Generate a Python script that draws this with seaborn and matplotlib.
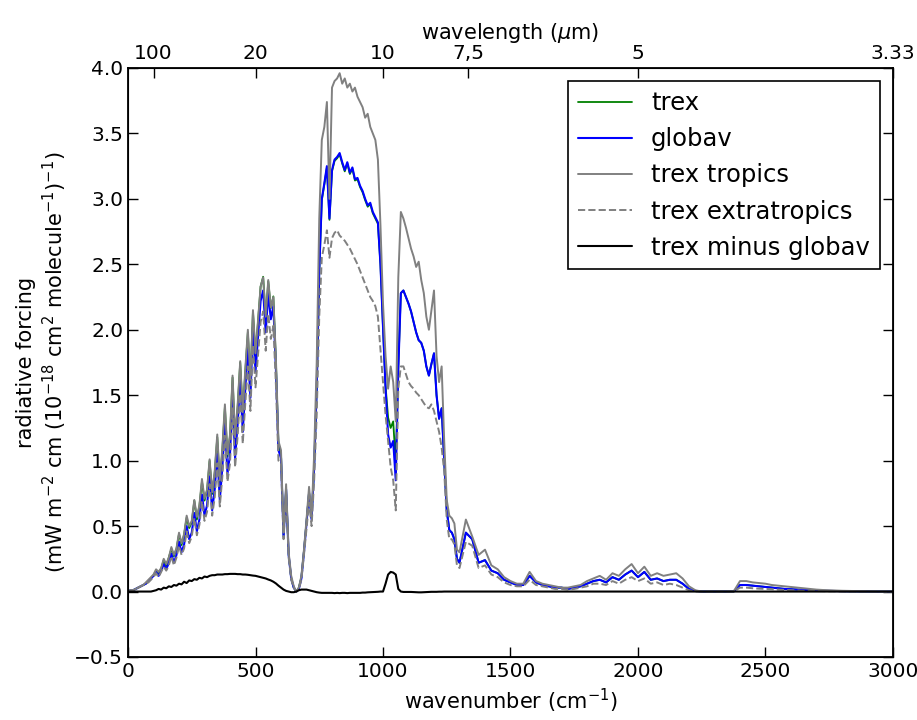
import numpy as np
import pandas as pd
import seaborn as sns
import matplotlib.pyplot as plt

# wavenumber grid (cm-1): fine below 1300, coarser above
wn_fine = np.arange(0, 1300, 10)
wn_coarse = np.arange(1300, 3001, 25)
wavenumber = np.concatenate([wn_fine, wn_coarse])

# values
globav = [
    0.00, 0.01, 0.01, 0.02, 0.03, 0.04, 0.05, 0.06, 0.08, 0.10,
    0.12, 0.15, 0.12, 0.16, 0.21, 0.17, 0.22, 0.29, 0.22, 0.28,
    0.38, 0.30, 0.36, 0.50, 0.40, 0.45, 0.60, 0.46, 0.55, 0.74,
    0.58, 0.66, 0.88, 0.62, 0.78, 1.05, 0.70, 0.95, 1.28, 0.90,
    1.05, 1.50, 1.02, 1.28, 1.62, 1.22, 1.55, 1.85, 1.48, 2.02,
    1.68, 1.95, 2.22, 2.30, 1.98, 2.28, 2.08, 2.18, 1.70, 1.08,
    1.02, 0.42, 0.78, 0.28, 0.10, 0.03, 0.00, 0.02, 0.10, 0.30,
    0.52, 0.75, 0.55, 0.95, 1.55, 2.45, 3.00, 3.12, 3.25, 2.85,
    3.22, 3.30, 3.32, 3.35, 3.28, 3.22, 3.28, 3.20, 3.24, 3.15,
    3.16, 3.10, 3.06, 3.00, 2.95, 2.97, 2.90, 2.86, 2.82, 2.50,
    2.02, 1.55, 1.20, 1.10, 1.15, 0.85, 1.70, 2.28, 2.30, 2.25,
    2.20, 2.14, 2.06, 1.98, 1.92, 1.90, 1.84, 1.72, 1.65, 1.74,
    1.82, 1.50, 1.32, 1.40, 1.00, 0.62, 0.47, 0.45, 0.40, 0.25,
    0.22, 0.45, 0.40, 0.22,
    0.24, 0.16, 0.14, 0.09,
    0.07, 0.05, 0.05, 0.12,
    0.07, 0.05, 0.04, 0.03,
    0.03, 0.02, 0.03, 0.04,
    0.06, 0.08, 0.09, 0.07,
    0.11, 0.09, 0.13, 0.16,
    0.11, 0.15, 0.09, 0.10,
    0.08, 0.09, 0.09, 0.06,
    0.02, 0.005, 0.0, 0.0,
    0.0, 0.0, 0.0, 0.0,
    0.05, 0.05, 0.045, 0.04,
    0.035, 0.03, 0.025, 0.02,
    0.018, 0.015, 0.012, 0.01,
    0.008, 0.006, 0.005, 0.004,
    0.003, 0.002, 0.002, 0.001,
    0.001, 0.0, 0.0, 0.0,
    0.0,
]

trex = [
    0.00, 0.01, 0.01, 0.02, 0.03, 0.04, 0.05, 0.06, 0.08, 0.10,
    0.125, 0.16, 0.14, 0.175, 0.24, 0.195, 0.26, 0.325, 0.27, 0.325,
    0.44, 0.355, 0.435, 0.565, 0.485, 0.53, 0.695, 0.55, 0.655, 0.84,
    0.695, 0.77, 1.00, 0.745, 0.905, 1.18, 0.83, 1.08, 1.41, 1.03,
    1.185, 1.635, 1.155, 1.41, 1.75, 1.35, 1.68, 1.98, 1.60, 2.14,
    1.80, 2.065, 2.33, 2.405, 2.08, 2.37, 2.165, 2.255, 1.76, 1.125,
    1.05, 0.43, 0.78, 0.28, 0.10, 0.03, 0.00, 0.03, 0.11, 0.31,
    0.54, 0.76, 0.56, 0.95, 1.54, 2.44, 2.99, 3.11, 3.24, 2.84,
    3.21, 3.29, 3.31, 3.34, 3.27, 3.21, 3.27, 3.19, 3.23, 3.14,
    3.15, 3.09, 3.05, 2.99, 2.94, 2.96, 2.89, 2.85, 2.81, 2.50,
    2.02, 1.57, 1.33, 1.25, 1.30, 0.98, 1.72, 2.28, 2.30, 2.25,
    2.20, 2.14, 2.06, 1.98, 1.92, 1.90, 1.84, 1.72, 1.65, 1.74,
    1.82, 1.50, 1.32, 1.40, 1.00, 0.62, 0.47, 0.45, 0.40, 0.25,
    0.22, 0.45, 0.40, 0.22,
    0.24, 0.16, 0.14, 0.09,
    0.07, 0.05, 0.05, 0.12,
    0.07, 0.05, 0.04, 0.03,
    0.03, 0.02, 0.03, 0.04,
    0.06, 0.08, 0.09, 0.07,
    0.11, 0.09, 0.13, 0.16,
    0.11, 0.15, 0.09, 0.10,
    0.08, 0.09, 0.09, 0.06,
    0.02, 0.005, 0.0, 0.0,
    0.0, 0.0, 0.0, 0.0,
    0.05, 0.05, 0.045, 0.04,
    0.035, 0.03, 0.025, 0.02,
    0.018, 0.015, 0.012, 0.01,
    0.008, 0.006, 0.005, 0.004,
    0.003, 0.002, 0.002, 0.001,
    0.001, 0.0, 0.0, 0.0,
    0.0,
]

trex_tropics = [
    0.00, 0.01, 0.01, 0.02, 0.03, 0.04, 0.05, 0.07, 0.09, 0.11,
    0.13, 0.17, 0.15, 0.18, 0.25, 0.21, 0.26, 0.34, 0.28, 0.33,
    0.45, 0.37, 0.44, 0.58, 0.50, 0.54, 0.70, 0.57, 0.66, 0.86,
    0.71, 0.78, 1.01, 0.76, 0.92, 1.20, 0.85, 1.10, 1.43, 1.05,
    1.20, 1.65, 1.18, 1.43, 1.76, 1.37, 1.70, 2.00, 1.62, 2.15,
    1.82, 2.08, 2.33, 2.40, 2.10, 2.38, 2.17, 2.25, 1.78, 1.15,
    1.08, 0.45, 0.82, 0.30, 0.12, 0.04, 0.00, 0.03, 0.12, 0.32,
    0.55, 0.80, 0.58, 1.05, 1.75, 2.85, 3.45, 3.55, 3.74, 3.00,
    3.85, 3.90, 3.92, 3.96, 3.88, 3.92, 3.85, 3.88, 3.82, 3.85,
    3.78, 3.74, 3.70, 3.62, 3.65, 3.55, 3.50, 3.45, 3.30, 2.80,
    2.20, 1.80, 1.55, 1.72, 1.60, 1.30, 2.40, 2.90, 2.85, 2.78,
    2.70, 2.62, 2.56, 2.48, 2.52, 2.38, 2.28, 2.10, 2.00, 2.15,
    2.30, 1.80, 1.60, 1.72, 1.15, 0.70, 0.58, 0.56, 0.52, 0.32,
    0.30, 0.55, 0.42, 0.28,
    0.32, 0.20, 0.17, 0.11,
    0.08, 0.06, 0.06, 0.15,
    0.08, 0.06, 0.05, 0.04,
    0.03, 0.03, 0.04, 0.05,
    0.08, 0.10, 0.12, 0.09,
    0.14, 0.12, 0.17, 0.21,
    0.14, 0.19, 0.12, 0.14,
    0.12, 0.13, 0.14, 0.10,
    0.04, 0.01, 0.0, 0.0,
    0.0, 0.0, 0.0, 0.0,
    0.08, 0.08, 0.07, 0.065,
    0.06, 0.05, 0.045, 0.04,
    0.035, 0.03, 0.025, 0.02,
    0.015, 0.012, 0.01, 0.008,
    0.006, 0.005, 0.004, 0.003,
    0.002, 0.001, 0.0, 0.0,
    0.0,
]

trex_extratropics = [
    0.00, 0.01, 0.01, 0.02, 0.03, 0.04, 0.05, 0.06, 0.07, 0.09,
    0.11, 0.14, 0.11, 0.15, 0.19, 0.16, 0.20, 0.27, 0.20, 0.26,
    0.35, 0.28, 0.33, 0.46, 0.37, 0.42, 0.56, 0.43, 0.51, 0.69,
    0.54, 0.61, 0.82, 0.58, 0.72, 0.98, 0.65, 0.88, 1.19, 0.84,
    0.98, 1.40, 0.95, 1.19, 1.51, 1.13, 1.44, 1.72, 1.38, 1.88,
    1.56, 1.81, 2.06, 2.14, 1.84, 2.12, 1.93, 2.03, 1.58, 1.00,
    0.98, 0.40, 0.75, 0.26, 0.09, 0.03, 0.00, 0.02, 0.09, 0.28,
    0.48, 0.68, 0.50, 0.85, 1.35, 2.10, 2.55, 2.65, 2.76, 2.55,
    2.70, 2.74, 2.76, 2.72, 2.70, 2.68, 2.65, 2.62, 2.58, 2.54,
    2.50, 2.45, 2.40, 2.35, 2.30, 2.25, 2.22, 2.18, 2.10, 1.85,
    1.60, 1.35, 1.15, 0.95, 0.85, 0.62, 1.55, 1.72, 1.72, 1.66,
    1.60, 1.57, 1.55, 1.52, 1.50, 1.47, 1.44, 1.41, 1.40, 1.43,
    1.38, 1.30, 1.22, 1.10, 0.92, 0.55, 0.40, 0.40, 0.36, 0.20,
    0.18, 0.38, 0.35, 0.18,
    0.20, 0.13, 0.11, 0.07,
    0.05, 0.04, 0.04, 0.09,
    0.05, 0.04, 0.03, 0.02,
    0.02, 0.015, 0.02, 0.03,
    0.04, 0.06, 0.06, 0.05,
    0.08, 0.06, 0.09, 0.11,
    0.08, 0.10, 0.06, 0.07,
    0.05, 0.06, 0.05, 0.03,
    0.01, 0.0, 0.0, 0.0,
    0.0, 0.0, 0.0, 0.0,
    0.03, 0.03, 0.025, 0.022,
    0.02, 0.018, 0.015, 0.012,
    0.01, 0.008, 0.006, 0.005,
    0.004, 0.003, 0.002, 0.002,
    0.001, 0.001, 0.0, 0.0,
    0.0, 0.0, 0.0, 0.0,
    0.0,
]

trex_minus_globav = [
    0.0, 0.0, 0.0, 0.0, 0.0, 0.0, 0.0, 0.0, 0.0, 0.0,
    0.005, 0.01, 0.02, 0.015, 0.03, 0.025, 0.04, 0.035, 0.05, 0.045,
    0.06, 0.055, 0.075, 0.065, 0.085, 0.08, 0.095, 0.09, 0.105, 0.10,
    0.115, 0.11, 0.12, 0.125, 0.125, 0.13, 0.13, 0.13, 0.133, 0.133,
    0.135, 0.135, 0.135, 0.133, 0.133, 0.13, 0.13, 0.128, 0.125, 0.122,
    0.12, 0.115, 0.11, 0.105, 0.10, 0.092, 0.085, 0.075, 0.062, 0.045,
    0.03, 0.015, 0.005, 0.0, -0.005, -0.005, 0.0, 0.01, 0.015, 0.015,
    0.015, 0.01, 0.005, 0.0, -0.005, -0.008, -0.01, -0.01, -0.01, -0.01,
    -0.01, -0.012, -0.01, -0.012, -0.01, -0.01, -0.012, -0.01, -0.01, -0.01,
    -0.01, -0.01, -0.008, -0.008, -0.006, -0.005, -0.004, -0.003, -0.002, 0.0,
    0.0, 0.06, 0.13, 0.15, 0.145, 0.13, 0.02, 0.0, -0.003, -0.003,
    -0.003, -0.003, -0.004, -0.005, -0.006, -0.006, -0.005, -0.004, -0.003, -0.002,
    -0.002, -0.002, -0.001, -0.001, 0.0, 0.0, 0.0, 0.0, 0.0, 0.0,
    0.0, 0.0, 0.0, 0.0,
    0.0, 0.0, 0.0, 0.0,
    0.0, 0.0, 0.0, 0.0,
    0.0, 0.0, 0.0, 0.0,
    0.0, 0.0, 0.0, 0.0,
    0.0, 0.0, 0.0, 0.0,
    0.0, 0.0, 0.0, 0.0,
    0.0, 0.0, 0.0, 0.0,
    0.0, 0.0, 0.0, 0.0,
    0.0, 0.0, 0.0, 0.0,
    0.0, 0.0, 0.0, 0.0,
    0.0, 0.0, 0.0, 0.0,
    0.0, 0.0, 0.0, 0.0,
    0.0, 0.0, 0.0, 0.0,
    0.0, 0.0, 0.0, 0.0,
    0.0, 0.0, 0.0, 0.0,
    0.0, 0.0, 0.0, 0.0,
    0.0,
]

# top axis: wavelength labels at matching wavenumbers
wl_ticks = [100, 500, 1000, 1333.33, 2000, 3000]
wl_labels = ['100', '20', '10', '7,5', '5', '3.33']


def main():
    sns.set_style('ticks')
    plt.rcParams['font.family'] = ['DejaVu Sans']
    for k in ['text.color', 'axes.labelcolor', 'xtick.color', 'ytick.color', 'axes.edgecolor']:
        plt.rcParams[k] = 'black'

    df = pd.DataFrame({'wavenumber': wavenumber, 'trex': trex, 'globav': globav,
                       'trex tropics': trex_tropics, 'trex extratropics': trex_extratropics,
                       'trex minus globav': trex_minus_globav})

    fig = plt.figure(figsize=(9.17, 7.2), dpi=100)
    ax = fig.add_axes([0.1396, 0.0875, 0.8342, 0.8181])

    sns.lineplot(data=df, x='wavenumber', y='trex', ax=ax, color='g', lw=1.3, label='trex')
    sns.lineplot(data=df, x='wavenumber', y='globav', ax=ax, color='b', lw=1.5, label='globav')
    sns.lineplot(data=df, x='wavenumber', y='trex tropics', ax=ax, color='gray', lw=1.4,
                 label='trex tropics')
    sns.lineplot(data=df, x='wavenumber', y='trex extratropics', ax=ax, color='gray', lw=1.4,
                 linestyle='--', label='trex extratropics')
    sns.lineplot(data=df, x='wavenumber', y='trex minus globav', ax=ax, color='black', lw=1.5,
                 label='trex minus globav')

    ax.set_xlim(0, 3000)
    ax.set_ylim(-0.5, 4.0)
    ax.set_xticks(np.arange(0, 3001, 500))
    ax.set_yticks(np.arange(-0.5, 4.01, 0.5))
    ax.set_xlabel('wavenumber (cm$^{-1}$)', fontsize=15)
    ax.set_ylabel('radiative forcing\n(mW m$^{-2}$ cm (10$^{-18}$ cm$^2$ molecule$^{-1}$)$^{-1}$)',
                  fontsize=15)
    ax.yaxis.set_ticks_position('both')
    ax.tick_params(direction='in', length=7, width=1, labelsize=14.5)
    for s in ax.spines.values():
        s.set_linewidth(1.3)

    ax2 = ax.twiny()
    ax2.set_xlim(ax.get_xlim())
    ax2.set_xticks(wl_ticks)
    ax2.set_xticklabels(wl_labels)
    ax2.set_xlabel('wavelength ($\\mu$m)', fontsize=15)
    ax2.tick_params(direction='in', length=7, width=1, labelsize=14.5)

    leg = ax.legend(loc='upper right', fontsize=17.5, handlelength=2.2, handletextpad=0.8,
                    labelspacing=0.5, borderaxespad=0.55, fancybox=False, framealpha=1)
    leg.get_frame().set_edgecolor('black')
    leg.get_frame().set_linewidth(1.2)

    fig.savefig('out.png', dpi=100)


if __name__ == '__main__':
    main()
